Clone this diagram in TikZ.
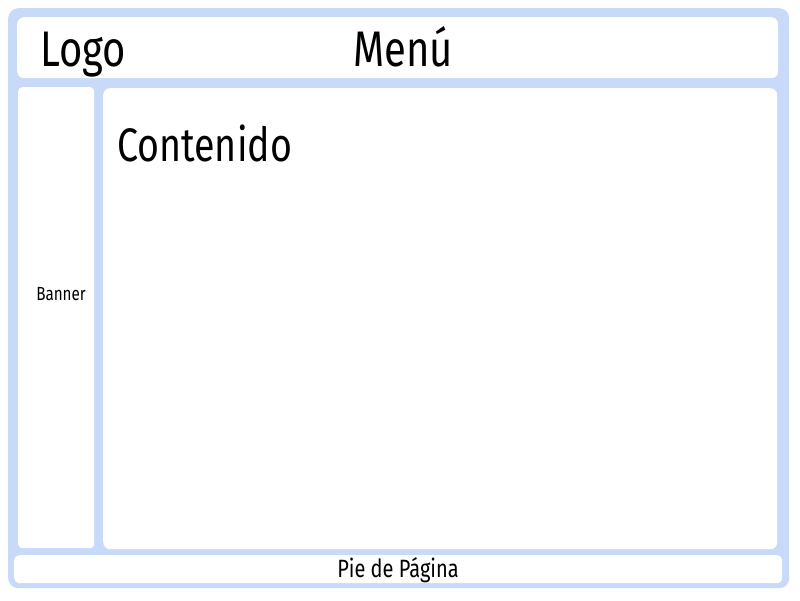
\documentclass[tikz,border=0pt]{standalone}
\usepackage{fontspec}
\setmainfont{Fira Sans}[FakeStretch=0.8]
\usetikzlibrary{positioning}
\definecolor{marco}{HTML}{C9DAF8}
\tikzset{%
  fondo/.style  = {shape=rectangle, rounded corners=10pt, fill=marco,%
                   inner sep=0pt, anchor=north west},%
  panel/.style  = {shape=rectangle, rounded corners=7pt, fill=white,%
                   inner sep=0pt, anchor=north west},%
  titulo/.style = {inner sep=0pt, font=\fontsize{50}{50}\selectfont},%
  pie/.style    = {inner sep=0pt, font=\fontsize{25}{25}\selectfont},%
  chico/.style  = {inner sep=0pt, font=\fontsize{19}{19}\selectfont}%
}
\begin{document}
\begin{tikzpicture}[x=1pt,y=-1pt]
	\useasboundingbox (0,0) rectangle (800,600);
	% marco azul
	\node [fondo, minimum width=781pt, minimum height=580pt] (marco) at (8,8) {};
	% zonas
	\node [panel, minimum width=761pt, minimum height=61pt] (cabecera) at (17,17) {};
	\node [panel, rounded corners=4pt, minimum width=76pt, minimum height=461pt] (lateral) at (18,87) {};
	\node [panel, minimum width=674pt, minimum height=461pt] (contenido) at (103,88) {};
	\node [panel, rounded corners=5pt, minimum width=768pt, minimum height=28pt] (piepag) at (14,555) {};
	% textos
	\node [titulo, anchor=base west] (logo) at (40,66) {Logo};
	\node [titulo, anchor=base] (menu) at (403,66) {Menú};
	\node [titulo, anchor=base west, font=\fontsize{47}{47}\selectfont] (cont) at (117,161) {Contenido};
	\node [chico, anchor=base] (banner) at (61,300) {Banner};
	\node [pie, anchor=base] (pietxt) at (398,577) {Pie de Página};
\end{tikzpicture}
\end{document}
